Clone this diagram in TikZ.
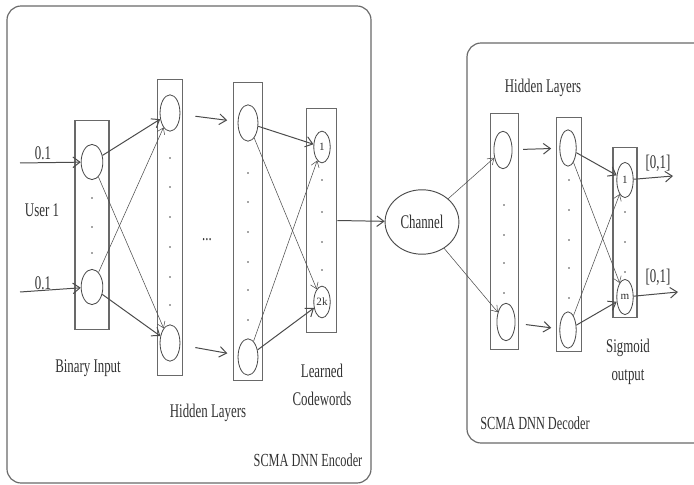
\documentclass[tikz,border=0pt]{standalone}
\usepackage{fontspec}
\setmainfont{Liberation Serif}
\usetikzlibrary{arrows.meta, shapes.geometric}
\definecolor{ink}{RGB}{50,50,50}
\definecolor{edge}{RGB}{75,75,75}
\definecolor{frame}{RGB}{105,105,105}
\newcommand{\tall}[1]{\scalebox{1}[1.5]{#1}}

\begin{document}
\begin{tikzpicture}[x=0.03cm, y=-0.03cm,
  lbl/.style={font=\fontsize{11}{13}\selectfont, text=ink, inner sep=0pt},
  layer/.style={draw=frame, line width=0.9pt, inner sep=0pt},
  neuron/.style={ellipse, draw=edge, line width=0.7pt, minimum width=17pt, minimum height=31pt, inner sep=0pt},
  codeword/.style={neuron, minimum width=14pt, minimum height=27pt, font=\fontsize{9.5}{10}\selectfont, text=ink},
  arr/.style={draw=edge, line width=0.85pt, -{Straight Barb[length=6pt,width=9pt]}},
  fine/.style={draw=edge, line width=0.45pt, -{Straight Barb[length=5pt,width=7pt]}},
  box/.style={draw=frame, line width=1pt, rounded corners=12pt}]
  \clip (0,0) rectangle (694,485);

  % Encoder and decoder frames
  \draw[box] (7,6) rectangle (371,483);
  \draw[box] (467,43) rectangle (720,443);

  % Encoder layers
  \node[layer, minimum width=29pt, minimum height=178pt] (L0) at (92,225) {};
  \node[layer, minimum width=22pt, minimum height=252pt] (L1) at (170,227.5) {};
  \node[layer, minimum width=25.5pt, minimum height=254pt] (L2) at (248,231.5) {};
  \node[layer, minimum width=26pt, minimum height=191pt] (L3) at (321.5,220.5) {};

  \node[neuron, minimum width=18.5pt, minimum height=30pt] (in1) at (92,162) {};
  \node[neuron, minimum width=18.5pt, minimum height=30pt] (in2) at (92,287) {};
  \node[neuron] (h1a) at (170,113) {};
  \node[neuron] (h1b) at (170,343) {};
  \node[neuron] (h2a) at (248,123) {};
  \node[neuron] (h2b) at (248,357) {};
  \node[codeword] (c1) at (322,147) {1};
  \node[codeword] (c2) at (322,302) {2k};

  \foreach \y in {198,227,253} \fill[edge] (92,\y) circle (0.8pt);
  \foreach \y in {158,187,217,247,277,305} \fill[edge] (170,\y) circle (0.8pt);
  \foreach \y in {173,202,232,262,290,320} \fill[edge] (248,\y) circle (0.8pt);
  \foreach \y in {180,212,242,270} \fill[edge] (322,\y) circle (0.8pt);

  % Encoder inputs and links
  \coordinate (u1) at (20,163);
  \coordinate (u2) at (20,292);
  \draw[arr] (u1) -- (in1);
  \draw[arr] (u2) -- (in2);
  \draw[arr] (in1) -- (h1a);
  \draw[fine] (in1) -- (h1b);
  \draw[fine] (in2) -- (h1a);
  \draw[arr] (in2) -- (h1b);
  \draw[arr, shorten <=13pt, shorten >=9pt] (h1a) -- (h2a);
  \draw[arr, shorten <=13pt, shorten >=9pt] (h1b) -- (h2b);
  \draw[arr] (h2a) -- (c1);
  \draw[fine] (h2a) -- (c2);
  \draw[fine] (h2b) -- (c1);
  \draw[arr] (h2b) -- (c2);

  \node[lbl] (v1) at (43,153) {\tall{0.1}};
  \node[lbl] (v2) at (43,283) {\tall{0.1}};
  \node[lbl] (user) at (42,210) {\tall{User 1}};
  \node[lbl] (dots) at (207,240) {\tall{...}};
  \node[lbl] (binin) at (88,368) {\tall{Binary Input}};
  \node[lbl] (hidenc) at (208,413) {\tall{Hidden Layers}};
  \node[lbl] (learned) at (322,387) {\tall{\begin{tabular}{@{}c@{}}Learned\\[3pt]Codewords\end{tabular}}};
  \node[lbl, font=\fontsize{10.5}{12}\selectfont] (enc) at (308,460) {\tall{SCMA DNN Encoder}};

  % Channel
  \node[ellipse, draw=edge, line width=0.8pt, minimum width=63pt, minimum height=55pt, inner sep=0pt, lbl] (chan) at (422,222) {\tall{Channel}};
  \draw[arr] (L3.east) -- (chan);

  % Decoder layers
  \node[layer, minimum width=24.5pt, minimum height=201pt] (D1) at (504.5,231.5) {};
  \node[layer, minimum width=22pt, minimum height=200pt] (D2) at (569,234.5) {};
  \node[layer, minimum width=20.5pt, minimum height=145pt] (D3) at (625,232.5) {};

  \node[neuron, minimum width=15.5pt, minimum height=32pt] (d1a) at (503,150) {};
  \node[neuron, minimum width=15.5pt, minimum height=32pt] (d1b) at (506,322) {};
  \node[neuron, minimum width=14pt, minimum height=31pt] (d2a) at (568,148) {};
  \node[neuron, minimum width=14pt, minimum height=31pt] (d2b) at (568,330) {};
  \node[codeword, minimum height=30pt] (o1) at (625,180) {1};
  \node[codeword, minimum height=30pt] (o2) at (625,297) {m};

  \foreach \y in {205,235,263,293} \fill[edge] (504,\y) circle (0.8pt);
  \foreach \y in {180,210,240,268,298} \fill[edge] (569,\y) circle (0.8pt);
  \foreach \y in {212,242,272} \fill[edge] (625,\y) circle (0.8pt);

  % Decoder links and outputs
  \draw[fine] (chan) -- (d1a);
  \draw[fine] (chan) -- (d1b);
  \draw[arr, shorten <=9pt, shorten >=7pt] (d1a) -- (d2a);
  \draw[arr, shorten <=9pt, shorten >=7pt] (d1b) -- (d2b);
  \draw[arr] (d2a) -- (o1);
  \draw[fine] (d2a) -- (o2);
  \draw[fine] (d2b) -- (o1);
  \draw[arr] (d2b) -- (o2);
  \coordinate (y1) at (673,176);
  \coordinate (y2) at (678,292);
  \draw[arr] (o1) -- (y1);
  \draw[arr] (o2) -- (y2);

  \node[lbl] (r1) at (658,163) {\tall{[0,1]}};
  \node[lbl] (r2) at (658,277) {\tall{[0,1]}};
  \node[lbl] (hiddec) at (543,88) {\tall{Hidden Layers}};
  \node[lbl] (sig) at (628,362) {\tall{\begin{tabular}{@{}c@{}}Sigmoid\\[3pt]output\end{tabular}}};
  \node[lbl, font=\fontsize{10.5}{12}\selectfont] (dec) at (535,423) {\tall{SCMA DNN Decoder}};
\end{tikzpicture}
\end{document}
